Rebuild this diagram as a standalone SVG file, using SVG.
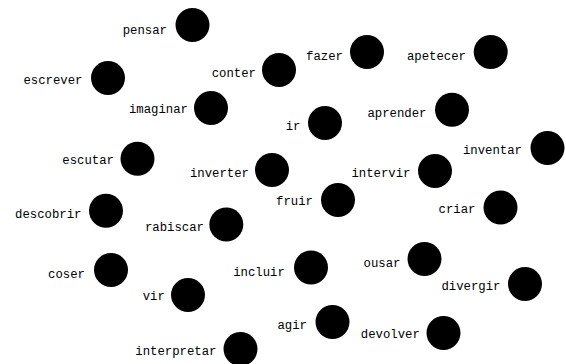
<svg xmlns="http://www.w3.org/2000/svg" width="566" height="364" viewBox="0 0 566 364">
<style>
circle{fill:#000}
text{font-family:"Liberation Mono","Courier New",monospace;font-size:12.3px;fill:#000;text-anchor:end}
</style>
<rect width="566" height="364" fill="#fff"/>
<g id="connectors"></g>
<g id="pensar"><circle cx="192.5" cy="25" r="17"/><text x="167" y="34">pensar</text></g>
<g id="escrever"><circle cx="108" cy="78" r="17"/><text x="82.5" y="84">escrever</text></g>
<g id="conter"><circle cx="279" cy="70" r="17"/><text x="256" y="76.5">conter</text></g>
<g id="imaginar"><circle cx="211" cy="108" r="17"/><text x="188" y="113.3">imaginar</text></g>
<g id="escutar"><circle cx="137.5" cy="158.7" r="17"/><text x="114" y="164">escutar</text></g>
<g id="inverter"><circle cx="272" cy="170" r="17"/><text x="249" y="177">inverter</text></g>
<g id="fazer"><circle cx="367" cy="52" r="17"/><text x="343" y="60">fazer</text></g>
<g id="apetecer"><circle cx="490.7" cy="52" r="17"/><text x="466" y="60">apetecer</text></g>
<g id="ir"><circle cx="325" cy="123" r="17"/><text x="300.5" y="130">ir</text></g>
<g id="aprender"><circle cx="452" cy="109.7" r="17"/><text x="426.5" y="116.7">aprender</text></g>
<g id="inventar"><circle cx="547.5" cy="148" r="17"/><text x="522" y="154">inventar</text></g>
<g id="intervir"><circle cx="435" cy="171" r="17"/><text x="410.5" y="177.3">intervir</text></g>
<g id="descobrir"><circle cx="106" cy="210.7" r="17"/><text x="81.5" y="218.3">descobrir</text></g>
<g id="rabiscar"><circle cx="226.3" cy="224.5" r="17"/><text x="204" y="231">rabiscar</text></g>
<g id="coser"><circle cx="111" cy="270" r="17"/><text x="85" y="277.7">coser</text></g>
<g id="vir"><circle cx="188" cy="295" r="17"/><text x="164.8" y="300">vir</text></g>
<g id="interpretar"><circle cx="240.5" cy="349" r="17"/><text x="216.5" y="355.3">interpretar</text></g>
<g id="fruir"><circle cx="338" cy="200" r="17"/><text x="313" y="205.3">fruir</text></g>
<g id="criar"><circle cx="500.5" cy="207.5" r="17"/><text x="475.5" y="212.7">criar</text></g>
<g id="incluir"><circle cx="311" cy="267.5" r="17"/><text x="284.8" y="276">incluir</text></g>
<g id="ousar"><circle cx="424.5" cy="259" r="17"/><text x="400.5" y="266.7">ousar</text></g>
<g id="divergir"><circle cx="525" cy="284" r="17"/><text x="500.5" y="290">divergir</text></g>
<g id="agir"><circle cx="332.5" cy="322" r="17"/><text x="307" y="328.7">agir</text></g>
<g id="devolver"><circle cx="443.5" cy="333" r="17"/><text x="419.8" y="337.7">devolver</text></g>
</svg>
